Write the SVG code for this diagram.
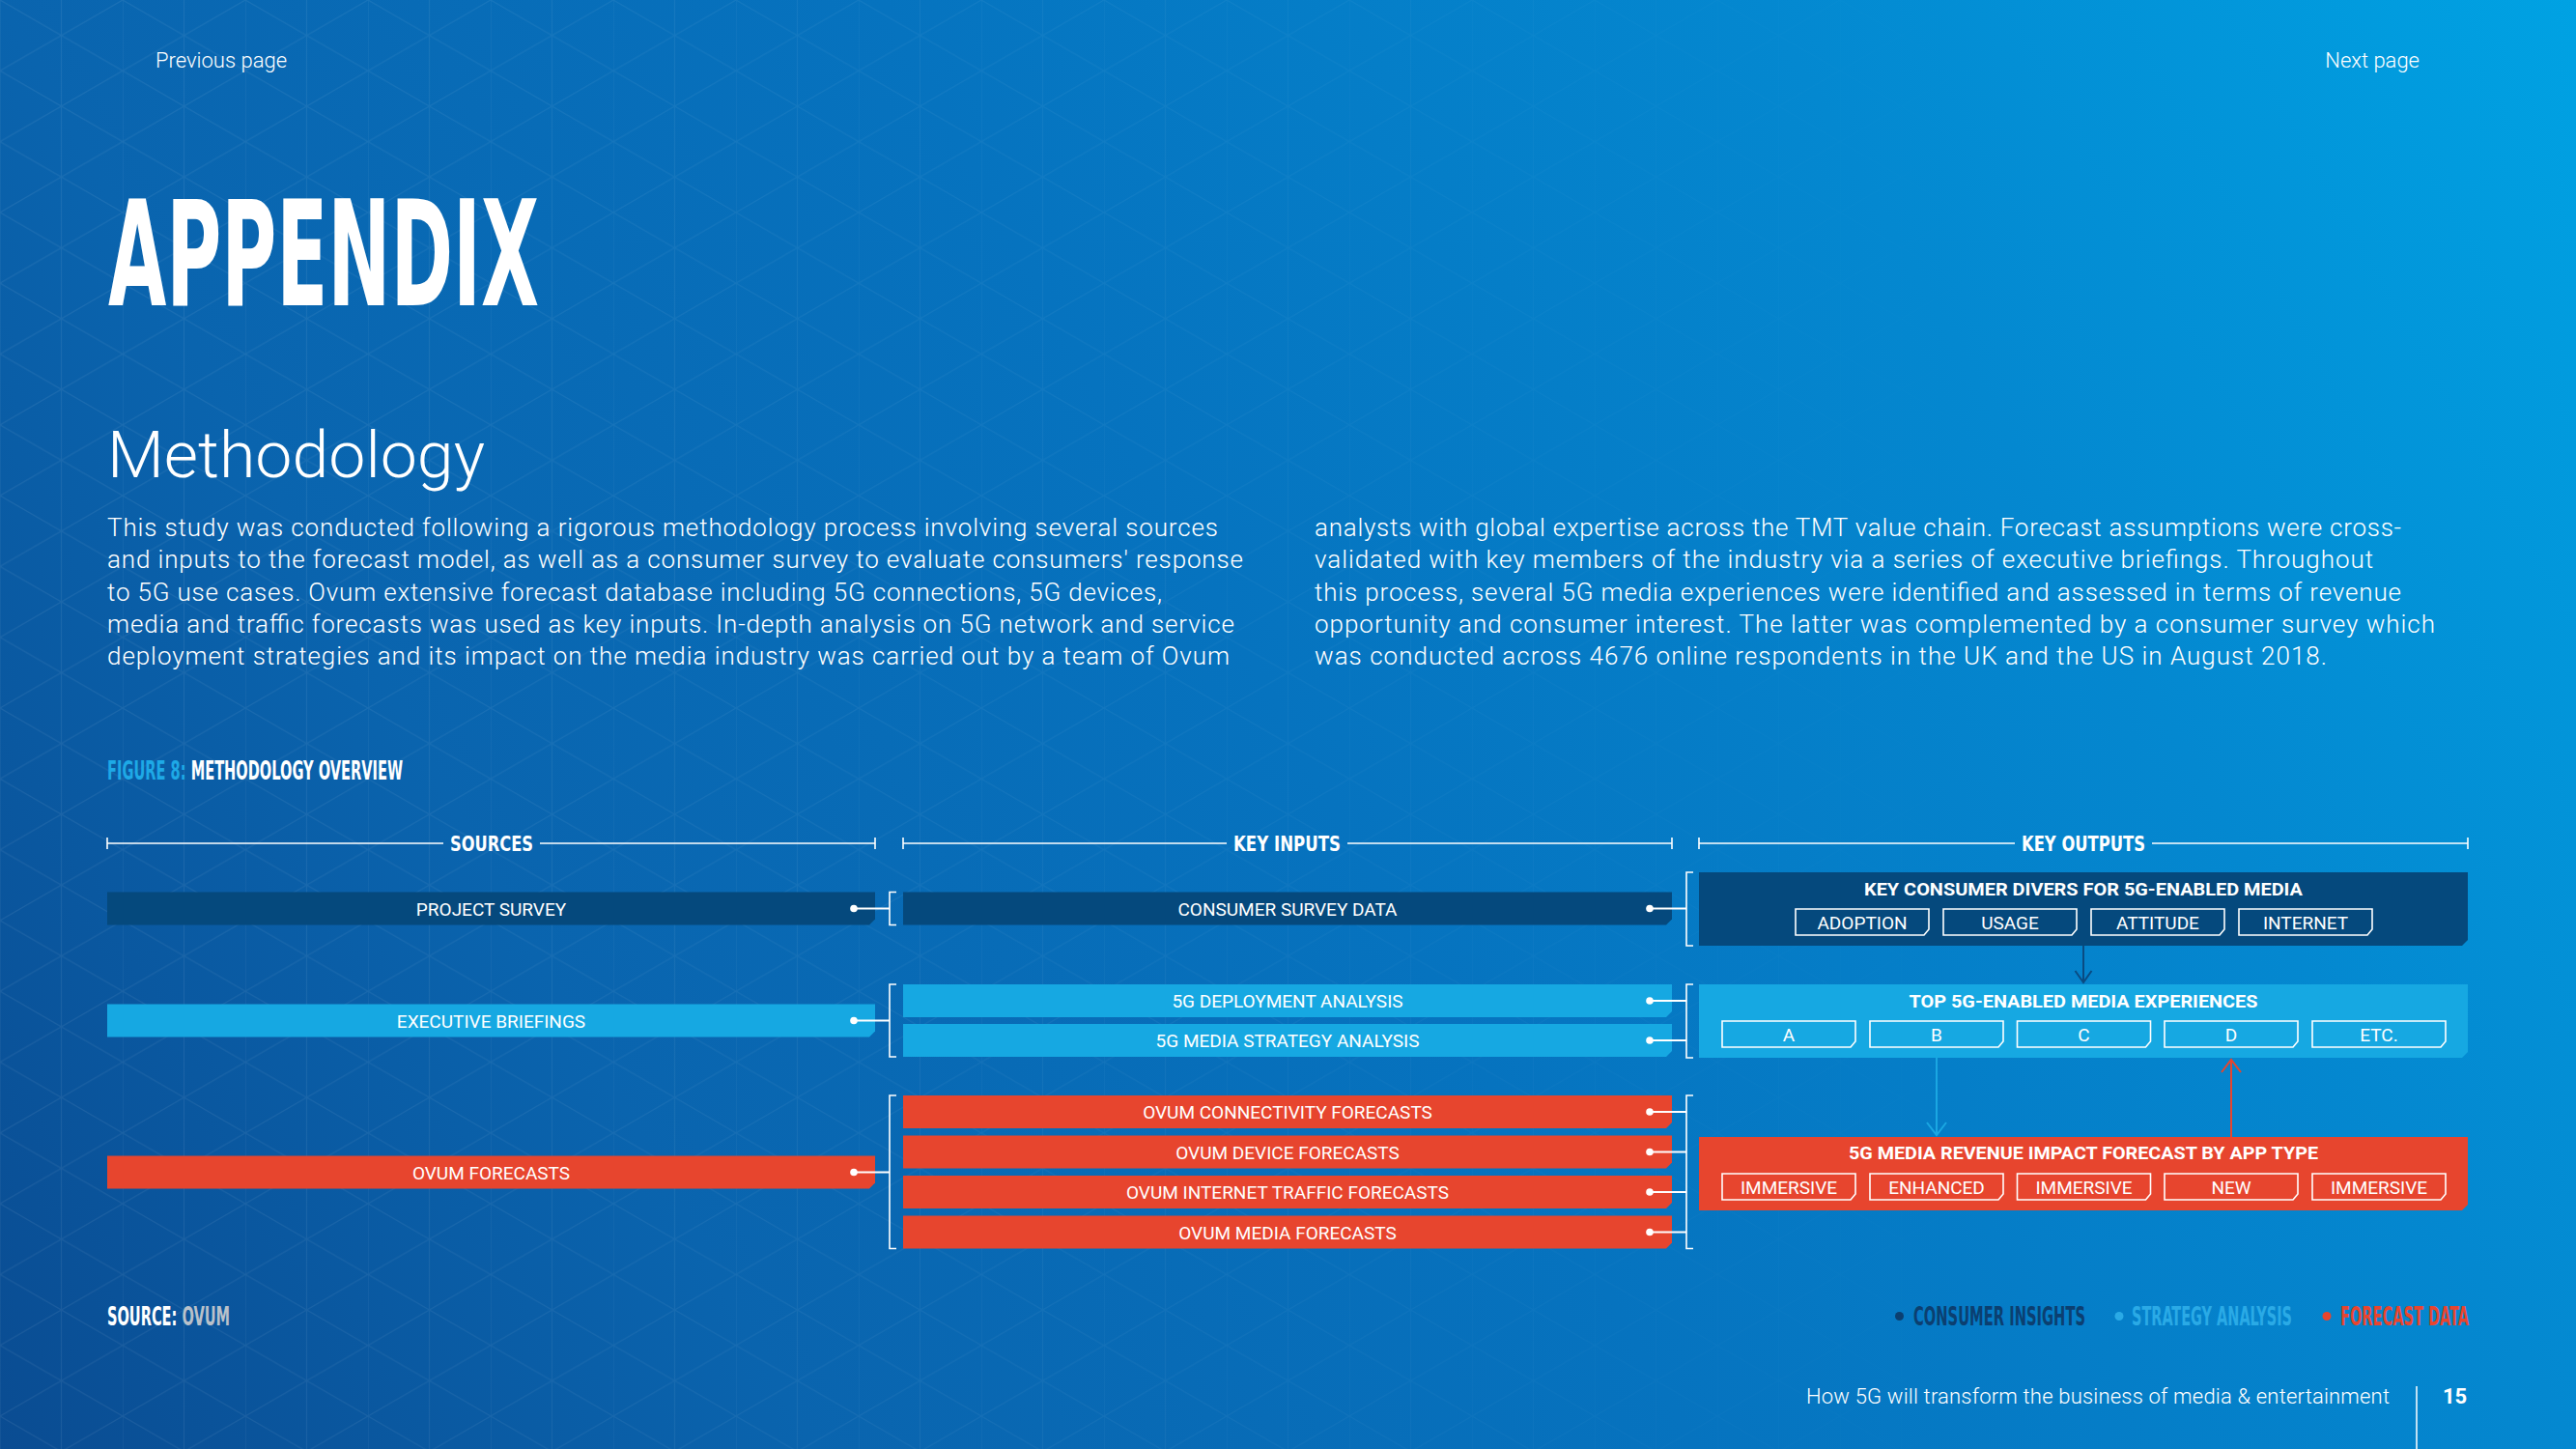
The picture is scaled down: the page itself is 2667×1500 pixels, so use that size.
<svg xmlns="http://www.w3.org/2000/svg" width="2667" height="1500" viewBox="0 0 2667 1500">
<defs>
<linearGradient id="bg" gradientUnits="userSpaceOnUse" x1="0" y1="1500" x2="2667" y2="0">
<stop offset="0" stop-color="#0a4c92"/>
<stop offset="0.24" stop-color="#0a64ae"/>
<stop offset="0.5" stop-color="#0673bf"/>
<stop offset="0.76" stop-color="#0488d0"/>
<stop offset="1" stop-color="#00a2e3"/>
</linearGradient>
<pattern id="grid" patternUnits="userSpaceOnUse" width="127" height="73.3">
<path d="M0 0V73.3M63.5 0V73.3M0 0L127 73.3M0 73.3L127 0" stroke="#ffffff" stroke-width="1.2" fill="none"/>
</pattern>
<linearGradient id="fade" x1="0" y1="0" x2="1" y2="0">
<stop offset="0" stop-color="#fff" stop-opacity="1"/>
<stop offset="0.45" stop-color="#fff" stop-opacity="0.6"/>
<stop offset="0.8" stop-color="#fff" stop-opacity="0"/>
</linearGradient>
<mask id="gridMask"><rect width="2667" height="1500" fill="url(#fade)"/></mask>
<style>
.body{font-family:Roboto,"Liberation Sans",sans-serif;font-weight:300;fill:#ffffff;}
.para{font-size:26px;}
.cond{font-family:"Liberation Sans Narrow","DejaVu Sans Condensed","Liberation Sans",sans-serif;font-weight:700;font-stretch:condensed;}
.lbl{font-family:Roboto,"Liberation Sans",sans-serif;font-weight:400;font-size:19px;fill:#ffffff;text-anchor:middle;}
.ttl{font-family:Roboto,"Liberation Sans",sans-serif;font-weight:700;font-size:19px;fill:#ffffff;text-anchor:middle;}
.navy{fill:#05497d;}
.sky{fill:#16a8e2;}
.red{fill:#e7452e;}
.sub{fill:none;stroke:#ffffff;stroke-width:1.6;}
.wire{stroke:#ffffff;stroke-width:2;fill:none;}
.brk{stroke:#ffffff;stroke-width:1.6;fill:none;}
.dot{fill:#ffffff;}
.hdr{stroke:#ffffff;stroke-width:1.6;fill:none;}
</style>
</defs>

<rect width="2667" height="1500" fill="url(#bg)"/>
<rect width="2667" height="1500" fill="url(#grid)" opacity="0.07" mask="url(#gridMask)"/>

<!-- page chrome -->
<text class="body" x="161" y="70" font-size="22">Previous page</text>
<text class="body" x="2505" y="70" font-size="22" text-anchor="end">Next page</text>
<text class="cond" x="112" y="316" font-size="152" fill="#ffffff" textLength="446" lengthAdjust="spacingAndGlyphs">APPENDIX</text>
<text class="body" x="111" y="494" font-size="66" textLength="391" lengthAdjust="spacingAndGlyphs">Methodology</text>

<g class="body para">
<text x="111" y="555" textLength="1150" lengthAdjust="spacing">This study was conducted following a rigorous methodology process involving several sources</text>
<text x="111" y="588.3" textLength="1176" lengthAdjust="spacing">and inputs to the forecast model, as well as a consumer survey to evaluate consumers' response</text>
<text x="111" y="621.6" textLength="1092" lengthAdjust="spacing">to 5G use cases. Ovum extensive forecast database including 5G connections, 5G devices,</text>
<text x="111" y="654.9" textLength="1167" lengthAdjust="spacing">media and traffic forecasts was used as key inputs. In-depth analysis on 5G network and service</text>
<text x="111" y="688.2" textLength="1162" lengthAdjust="spacing">deployment strategies and its impact on the media industry was carried out by a team of Ovum</text>
<text x="1361" y="555" textLength="1125" lengthAdjust="spacing">analysts with global expertise across the TMT value chain. Forecast assumptions were cross-</text>
<text x="1361" y="588.3" textLength="1096" lengthAdjust="spacing">validated with key members of the industry via a series of executive briefings. Throughout</text>
<text x="1361" y="621.6" textLength="1125" lengthAdjust="spacing">this process, several 5G media experiences were identified and assessed in terms of revenue</text>
<text x="1361" y="654.9" textLength="1160" lengthAdjust="spacing">opportunity and consumer interest. The latter was complemented by a consumer survey which</text>
<text x="1361" y="688.2" textLength="1048" lengthAdjust="spacing">was conducted across 4676 online respondents in the UK and the US in August 2018.</text>
</g>

<!-- figure title -->
<text class="cond" x="111" y="807" font-size="26" fill="#ffffff" textLength="306" lengthAdjust="spacingAndGlyphs"><tspan fill="#1ea9e6">FIGURE 8:</tspan> METHODOLOGY OVERVIEW</text>

<!-- column headers -->
<g id="header-sources">
<path class="hdr" d="M111 873H459M559 873H906M111 867V879M906 867V879"/>
<text class="cond" x="466" y="881" font-size="22" fill="#ffffff" textLength="86" lengthAdjust="spacingAndGlyphs">SOURCES</text>
</g>
<g id="header-inputs">
<path class="hdr" d="M935 873H1270M1395 873H1731M935 867V879M1731 867V879"/>
<text class="cond" x="1277" y="881" font-size="22" fill="#ffffff" textLength="111" lengthAdjust="spacingAndGlyphs">KEY INPUTS</text>
</g>
<g id="header-outputs">
<path class="hdr" d="M1759 873H2086M2228 873H2555M1759 867V879M2555 867V879"/>
<text class="cond" x="2093" y="881" font-size="22" fill="#ffffff" textLength="128" lengthAdjust="spacingAndGlyphs">KEY OUTPUTS</text>
</g>

<!-- sources -->
<g id="src-project-survey">
<path class="navy" d="M111 923.5H906V951.5L900 957.5H111Z"/>
<text class="lbl" x="508.5" y="947.5">PROJECT SURVEY</text>
</g>
<g id="src-executive-briefings">
<path class="sky" d="M111 1039.5H906V1067.5L900 1073.5H111Z"/>
<text class="lbl" x="508.5" y="1063.5">EXECUTIVE BRIEFINGS</text>
</g>
<g id="src-ovum-forecasts">
<path class="red" d="M111 1196.5H906V1224.5L900 1230.5H111Z"/>
<text class="lbl" x="508.5" y="1220.5">OVUM FORECASTS</text>
</g>

<!-- key inputs -->
<g id="in-consumer-survey-data">
<path class="navy" d="M935 923.5H1731V951.5L1725 957.5H935Z"/>
<text class="lbl" x="1333" y="947.5">CONSUMER SURVEY DATA</text>
</g>
<g id="in-5g-deployment">
<path class="sky" d="M935 1019H1731V1047L1725 1053H935Z"/>
<text class="lbl" x="1333" y="1043">5G DEPLOYMENT ANALYSIS</text>
</g>
<g id="in-5g-media-strategy">
<path class="sky" d="M935 1060H1731V1088L1725 1094H935Z"/>
<text class="lbl" x="1333" y="1084">5G MEDIA STRATEGY ANALYSIS</text>
</g>
<g id="in-ovum-connectivity">
<path class="red" d="M935 1134H1731V1162L1725 1168H935Z"/>
<text class="lbl" x="1333" y="1158">OVUM CONNECTIVITY FORECASTS</text>
</g>
<g id="in-ovum-device">
<path class="red" d="M935 1175.5H1731V1203.5L1725 1209.5H935Z"/>
<text class="lbl" x="1333" y="1199.5">OVUM DEVICE FORECASTS</text>
</g>
<g id="in-ovum-internet-traffic">
<path class="red" d="M935 1217H1731V1245L1725 1251H935Z"/>
<text class="lbl" x="1333" y="1241">OVUM INTERNET TRAFFIC FORECASTS</text>
</g>
<g id="in-ovum-media">
<path class="red" d="M935 1258.5H1731V1286.5L1725 1292.5H935Z"/>
<text class="lbl" x="1333" y="1282.5">OVUM MEDIA FORECASTS</text>
</g>

<!-- key outputs -->
<g id="out-consumer-drivers">
<path class="navy" d="M1759 903H2555V973L2549 979H1759Z"/>
<text class="ttl" x="2157" y="927" textLength="454" lengthAdjust="spacingAndGlyphs">KEY CONSUMER DIVERS FOR 5G-ENABLED MEDIA</text>
<path class="sub" d="M1859 941H1997V962L1992 968H1859Z"/>
<path class="sub" d="M2012 941H2150V962L2145 968H2012Z"/>
<path class="sub" d="M2165 941H2303V962L2298 968H2165Z"/>
<path class="sub" d="M2318 941H2456V962L2451 968H2318Z"/>
<text class="lbl" x="1928" y="962">ADOPTION</text>
<text class="lbl" x="2081" y="962">USAGE</text>
<text class="lbl" x="2234" y="962">ATTITUDE</text>
<text class="lbl" x="2387" y="962">INTERNET</text>
</g>
<g id="out-top-experiences">
<path class="sky" d="M1759 1019H2555V1089L2549 1095H1759Z"/>
<text class="ttl" x="2157" y="1043" textLength="361" lengthAdjust="spacingAndGlyphs">TOP 5G-ENABLED MEDIA EXPERIENCES</text>
<path class="sub" d="M1783 1057H1921V1078L1916 1084H1783Z"/>
<path class="sub" d="M1936 1057H2074V1078L2069 1084H1936Z"/>
<path class="sub" d="M2088.5 1057H2226.5V1078L2221.5 1084H2088.5Z"/>
<path class="sub" d="M2241 1057H2379V1078L2374 1084H2241Z"/>
<path class="sub" d="M2394 1057H2532V1078L2527 1084H2394Z"/>
<text class="lbl" x="1852" y="1078">A</text>
<text class="lbl" x="2005" y="1078">B</text>
<text class="lbl" x="2157.5" y="1078">C</text>
<text class="lbl" x="2310" y="1078">D</text>
<text class="lbl" x="2463" y="1078">ETC.</text>
</g>
<g id="out-revenue-impact">
<path class="red" d="M1759 1177H2555V1247L2549 1253H1759Z"/>
<text class="ttl" x="2157" y="1200" textLength="486" lengthAdjust="spacingAndGlyphs">5G MEDIA REVENUE IMPACT FORECAST BY APP TYPE</text>
<path class="sub" d="M1783 1215H1921V1236L1916 1242H1783Z"/>
<path class="sub" d="M1936 1215H2074V1236L2069 1242H1936Z"/>
<path class="sub" d="M2088.5 1215H2226.5V1236L2221.5 1242H2088.5Z"/>
<path class="sub" d="M2241 1215H2379V1236L2374 1242H2241Z"/>
<path class="sub" d="M2394 1215H2532V1236L2527 1242H2394Z"/>
<text class="lbl" x="1852" y="1236">IMMERSIVE</text>
<text class="lbl" x="2005" y="1236">ENHANCED</text>
<text class="lbl" x="2157.5" y="1236">IMMERSIVE</text>
<text class="lbl" x="2310" y="1236">NEW</text>
<text class="lbl" x="2463" y="1236">IMMERSIVE</text>
</g>

<!-- connectors -->
<g id="connectors">
<!-- sources to inputs -->
<path class="wire" d="M884 940.5H921M884 1056.5H921M884 1213.5H921"/>
<path class="brk" d="M928 923.5H921V957.5H928M928 1019H921V1094H928M928 1134H921V1292.5H928"/>
<circle class="dot" cx="884" cy="940.5" r="3.8"/>
<circle class="dot" cx="884" cy="1056.5" r="3.8"/>
<circle class="dot" cx="884" cy="1213.5" r="3.8"/>
<!-- inputs to outputs -->
<path class="wire" d="M1708 940.5H1746M1708 1036H1746M1708 1077H1746M1708 1151H1746M1708 1192.5H1746M1708 1234H1746M1708 1275.5H1746"/>
<path class="brk" d="M1753 903H1746V979H1753M1753 1019H1746V1095H1753M1753 1134H1746V1292.5H1753"/>
<circle class="dot" cx="1708" cy="940.5" r="3.8"/>
<circle class="dot" cx="1708" cy="1036" r="3.8"/>
<circle class="dot" cx="1708" cy="1077" r="3.8"/>
<circle class="dot" cx="1708" cy="1151" r="3.8"/>
<circle class="dot" cx="1708" cy="1192.5" r="3.8"/>
<circle class="dot" cx="1708" cy="1234" r="3.8"/>
<circle class="dot" cx="1708" cy="1275.5" r="3.8"/>
<!-- output flow arrows -->
<path d="M2157 979V1017M2148.5 1005L2157 1017L2165.5 1005" stroke="#0a4b82" stroke-width="2" fill="none"/>
<path d="M2005 1095V1175M1995 1162L2005 1175L2015 1162" stroke="#1aa7e2" stroke-width="2" fill="none"/>
<path d="M2310 1177V1097M2300 1110L2310 1097L2320 1110" stroke="#e7452e" stroke-width="2" fill="none"/>
</g>

<!-- source and legend -->
<text class="cond" x="111" y="1372" font-size="26" fill="#ffffff" textLength="127" lengthAdjust="spacingAndGlyphs">SOURCE: <tspan fill="#b9c1ca">OVUM</tspan></text>
<g id="legend">
<circle cx="1966.5" cy="1362.5" r="4.5" fill="#0b3f70"/>
<circle cx="2194" cy="1362.5" r="4.5" fill="#2aaae6"/>
<circle cx="2409" cy="1362.5" r="4.5" fill="#e8452f"/>
<text class="cond" y="1372" font-size="26"><tspan x="1981" fill="#0b3f70" textLength="178" lengthAdjust="spacingAndGlyphs">CONSUMER INSIGHTS</tspan><tspan x="2207" fill="#2aaae6" textLength="166" lengthAdjust="spacingAndGlyphs">STRATEGY ANALYSIS</tspan><tspan x="2423" fill="#e8452f" textLength="133" lengthAdjust="spacingAndGlyphs">FORECAST DATA</tspan></text>
</g>

<!-- footer -->
<text class="body" x="2474" y="1453" font-size="22" text-anchor="end" textLength="604" lengthAdjust="spacing">How 5G will transform the business of media &amp; entertainment</text>
<path d="M2502 1435V1500" stroke="#ffffff" stroke-width="1.5"/>
<text x="2529" y="1453" font-family="Roboto,'Liberation Sans',sans-serif" font-weight="700" font-size="22" fill="#ffffff">15</text>
</svg>
